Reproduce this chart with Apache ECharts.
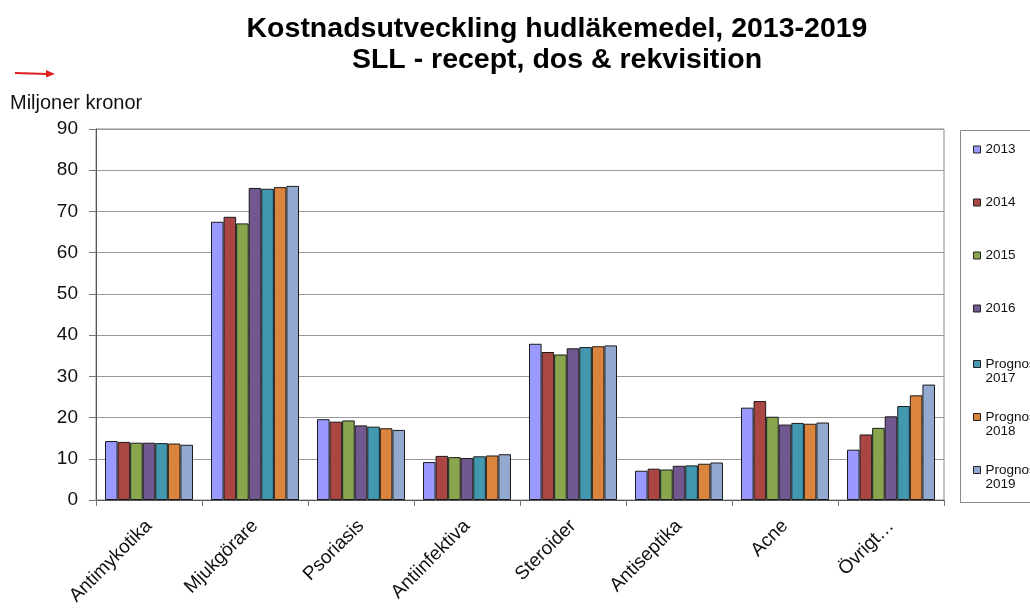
<!DOCTYPE html>
<html>
<head>
<meta charset="utf-8">
<script src="https://cdn.jsdelivr.net/npm/echarts@6/dist/echarts.min.js"></script>
<style>
  html, body { margin: 0; padding: 0; background: #fff; }
  #chart { width: 1030px; height: 608px; }
</style>
</head>
<body>
<div id="chart"></div>
<script>
// Skin drug costs per therapeutic group, million SEK
const categories = ['Antimykotika', 'Mjukgörare', 'Psoriasis', 'Antiinfektiva', 'Steroider', 'Antiseptika', 'Acne', 'Övrigt…'];
const seriesNames = ['2013', '2014', '2015', '2016', 'Prognos 2017', 'Prognos 2018', 'Prognos 2019'];

const v2013 = [14.3, 67.5, 19.6, 9.2, 37.9, 7.1, 22.4, 12.2];
const v2014 = [14.1, 68.7, 19.0, 10.7, 35.9, 7.6, 24.0, 15.9];
const v2015 = [13.9, 67.1, 19.3, 10.4, 35.3, 7.4, 20.2, 17.5];
const v2016 = [13.9, 75.7, 18.1, 10.2, 36.8, 8.3, 18.3, 20.3];
const v2017 = [13.8, 75.5, 17.8, 10.6, 37.1, 8.4, 18.7, 22.8];
const v2018 = [13.7, 75.9, 17.4, 10.8, 37.3, 8.8, 18.5, 25.4];
const v2019 = [13.4, 76.2, 17.0, 11.1, 37.5, 9.1, 18.8, 28.0];

const yTicks = { min: 0, max: 90, interval: 10 };

const seriesValues = [v2013, v2014, v2015, v2016, v2017, v2018, v2019];
const colors = ['#9999FF', '#AA4643', '#89A54E', '#71588F', '#4198AF', '#DB843D', '#93A9CF'];

const FONT = '"Liberation Sans", Arial, sans-serif';

const chart = echarts.init(document.getElementById('chart'), null, { renderer: 'canvas' });

chart.setOption({
  animation: false,
  backgroundColor: '#ffffff',
  color: colors,
  title: {
    text: 'Kostnadsutveckling hudläkemedel, 2013-2019\nSLL - recept, dos & rekvisition',
    left: 557,
    top: 14,
    padding: 0,
    textAlign: 'center',
    textStyle: { fontFamily: FONT, fontSize: 28.5, fontWeight: 'bold', color: '#000', lineHeight: 31 }
  },
  legend: [
    {
      data: seriesNames.slice(0, 4),
      orient: 'vertical',
      left: 973,
      top: 142,
      padding: 0,
      itemGap: 38,
      itemWidth: 7,
      itemHeight: 7,
      icon: 'rect',
      itemStyle: { borderColor: '#222', borderWidth: 1 },
      textStyle: { fontFamily: FONT, fontSize: 13.5, color: '#111', lineHeight: 15 }
    },
    {
      // forecast years: first word beside the swatch, year on the line below
      data: seriesNames.slice(4),
      orient: 'vertical',
      left: 973,
      top: 343,
      padding: 0,
      itemGap: 11,
      itemWidth: 7,
      itemHeight: 7,
      icon: 'rect',
      itemStyle: { borderColor: '#222', borderWidth: 1 },
      formatter: name => ' \n' + name.replace(' ', '\n'),
      textStyle: { fontFamily: FONT, fontSize: 13.5, color: '#111', lineHeight: 14 }
    }
  ],
  grid: {
    left: 96,
    right: 86,
    top: 129,
    bottom: 104,
    show: true,
    borderColor: '#8a8a8a',
    borderWidth: 1
  },
  xAxis: {
    type: 'category',
    data: categories,
    axisLine: { lineStyle: { color: '#555', width: 1 } },
    axisTick: { show: true, length: 6, lineStyle: { color: '#777' } },
    axisLabel: {
      rotate: 45,
      margin: 23,
      interval: 0,
      fontFamily: FONT,
      fontSize: 19,
      color: '#111'
    }
  },
  yAxis: {
    type: 'value',
    min: yTicks.min,
    max: yTicks.max,
    interval: yTicks.interval,
    axisLine: { show: true, lineStyle: { color: '#555', width: 1 } },
    axisTick: { show: true, length: 7, lineStyle: { color: '#777' } },
    axisLabel: { margin: 18, fontFamily: FONT, fontSize: 19, color: '#111' },
    splitLine: { lineStyle: { color: '#999', width: 1 } }
  },
  series: seriesNames.map((name, i) => ({
    name: name,
    type: 'bar',
    data: seriesValues[i],
    barGap: '0%',
    barCategoryGap: '17%',
    itemStyle: { color: colors[i], borderColor: '#1a1a1a', borderWidth: 1 }
  })),
  graphic: [
    // legend frame
    {
      type: 'rect',
      shape: { x: 960.5, y: 130.5, width: 120, height: 372 },
      style: { fill: 'none', stroke: '#8a8a8a', lineWidth: 1 },
      silent: true
    },
    // unit label above the value axis
    {
      type: 'text',
      left: 10,
      top: 93,
      style: { text: 'Miljoner kronor', font: '20px ' + FONT, fill: '#111' }
    },
    // red pointer arrow
    {
      type: 'line',
      shape: { x1: 15, y1: 73, x2: 48, y2: 74 },
      style: { stroke: '#e02020', lineWidth: 2 }
    },
    {
      type: 'polygon',
      shape: { points: [[46, 70], [55, 74], [46, 77.5]] },
      style: { fill: '#e02020' }
    }
  ]
});
</script>
</body>
</html>
